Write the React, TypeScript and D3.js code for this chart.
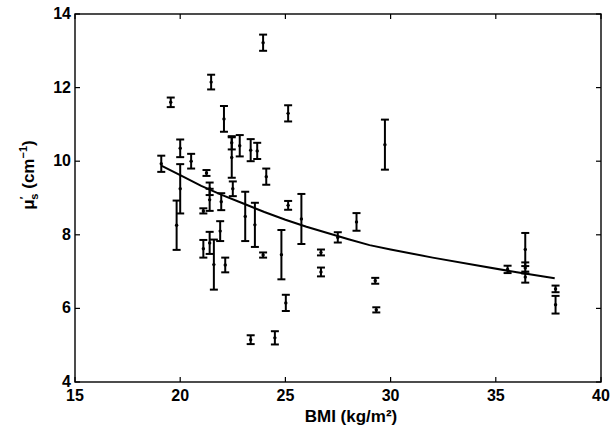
import React from "react";
import * as d3 from "d3";

const bmi = [19.1, 19.55, 20.0, 20.0, 19.83, 20.52, 21.25, 21.1, 21.47, 21.4, 21.4, 21.1, 21.4, 21.6, 21.95, 21.9, 22.08, 22.14, 22.45, 22.45, 22.5, 22.83, 23.09, 23.35, 23.35, 23.55, 23.66, 23.94, 23.94, 24.09, 24.5, 24.81, 25.02, 25.13, 25.13, 25.76, 26.69, 26.69, 27.49, 28.38, 29.27, 29.32, 29.73, 35.56, 36.4, 36.4, 36.4, 37.84, 37.84];
const mus = [9.93, 11.6, 10.35, 9.25, 8.26, 10.0, 9.68, 8.65, 12.15, 9.25, 8.95, 7.62, 7.78, 7.19, 8.9, 8.1, 11.15, 7.18, 10.5, 10.1, 9.25, 10.42, 8.5, 10.3, 5.15, 8.27, 10.28, 13.22, 7.45, 9.58, 5.2, 7.46, 6.15, 11.3, 8.8, 8.43, 7.52, 6.99, 7.93, 8.35, 6.75, 5.96, 10.45, 7.06, 7.6, 7.1, 6.85, 6.53, 6.1];
const err = [0.22, 0.13, 0.24, 0.67, 0.67, 0.2, 0.08, 0.07, 0.2, 0.17, 0.3, 0.24, 0.3, 0.68, 0.23, 0.27, 0.35, 0.2, 0.18, 0.55, 0.2, 0.29, 0.67, 0.3, 0.12, 0.6, 0.22, 0.22, 0.07, 0.22, 0.18, 0.67, 0.22, 0.22, 0.12, 0.68, 0.08, 0.12, 0.14, 0.24, 0.08, 0.07, 0.68, 0.1, 0.45, 0.15, 0.15, 0.09, 0.24];

const fitBmi = [19.1, 20, 21, 22, 23, 24, 25, 26, 27, 28, 29, 30, 32, 34, 36, 37.8];
const fitMus = [9.88, 9.62, 9.33, 9.08, 8.85, 8.62, 8.41, 8.22, 8.05, 7.88, 7.72, 7.6, 7.38, 7.18, 6.98, 6.82];

const xTicks = [15, 20, 25, 30, 35, 40];
const yTicks = [4, 6, 8, 10, 12, 14];

export default function App() {
  const W = 612, H = 440;
  const L = 75, R = 601, T = 14, B = 382;
  const x = d3.scaleLinear().domain([15, 40]).range([L, R]);
  const y = d3.scaleLinear().domain([4, 14]).range([B, T]);
  const line = d3.line<number>().x((_, i) => x(fitBmi[i])).y((d) => y(d));
  const font = "'Liberation Sans', Arial, Helvetica, sans-serif";
  const cap = 4;
  return (
    <svg width={W} height={H} style={{ position: "absolute", left: 0, top: 0, background: "#fff" }} fontFamily={font}>
      <rect x={0} y={0} width={W} height={H} fill="#fff" />
      {/* box */}
      <rect x={L} y={T} width={R - L} height={B - T} fill="none" stroke="#000" strokeWidth={1.4} />
      {/* x ticks */}
      {xTicks.map((t) => (
        <g key={"x" + t}>
          <line x1={x(t)} x2={x(t)} y1={B} y2={B - 5} stroke="#000" strokeWidth={1.2} />
          <line x1={x(t)} x2={x(t)} y1={T} y2={T + 5} stroke="#000" strokeWidth={1.2} />
          <text x={x(t)} y={B + 19} textAnchor="middle" fontSize={16} fontWeight="bold">{t}</text>
        </g>
      ))}
      {yTicks.map((t) => (
        <g key={"y" + t}>
          <line x1={L} x2={L + 5} y1={y(t)} y2={y(t)} stroke="#000" strokeWidth={1.2} />
          <line x1={R} x2={R - 5} y1={y(t)} y2={y(t)} stroke="#000" strokeWidth={1.2} />
          <text x={L - 4} y={y(t) + 5} textAnchor="end" fontSize={16} fontWeight="bold">{t}</text>
        </g>
      ))}
      {/* fit curve */}
      <path d={line(fitMus) || ""} fill="none" stroke="#000" strokeWidth={2} />
      {/* error bars */}
      {bmi.map((b, i) => {
        const cx = x(b);
        const y1 = y(mus[i] + err[i]);
        const y2 = y(mus[i] - err[i]);
        return (
          <g key={"e" + i} stroke="#000" strokeWidth={2}>
            <line x1={cx} x2={cx} y1={y1} y2={y2} />
            <line x1={cx - cap} x2={cx + cap} y1={y1} y2={y1} />
            <line x1={cx - cap} x2={cx + cap} y1={y2} y2={y2} />
            <circle cx={cx} cy={y(mus[i])} r={1.7} fill="#000" strokeWidth={0} />
          </g>
        );
      })}
      {/* axis titles */}
      <text x={351} y={422} textAnchor="middle" fontSize={17} fontWeight="bold">
        BMI (kg/m²)
      </text>
      <text transform="translate(34,175) rotate(-90)" textAnchor="middle" fontSize={17} fontWeight="bold">
        μ<tspan dy={-6} fontSize={11}>′</tspan><tspan dy={10} dx={-3} fontSize={11}>s</tspan><tspan dy={-4}> (cm</tspan><tspan dy={-7} fontSize={11}>−1</tspan><tspan dy={7}>)</tspan>
      </text>
    </svg>
  );
}
